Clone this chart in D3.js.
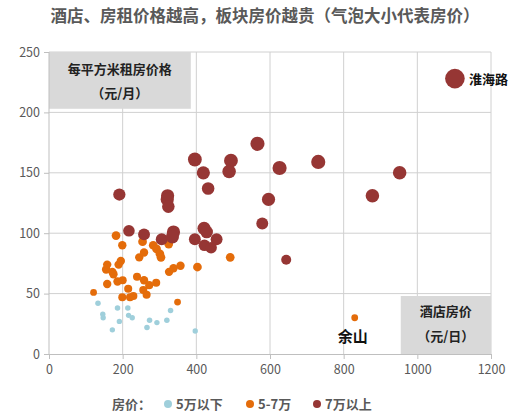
<!DOCTYPE html>
<html lang="zh">
<head>
    <meta charset="UTF-8">
    <title>酒店、房租价格与板块房价</title>
    <script src="https://d3js.org/d3.v7.min.js"></script>
    <style>
        body { margin: 0; background: #fff; }
        text { font-family: "Noto Sans CJK SC", "Noto Sans", sans-serif; }
    </style>
</head>
<body>
    <script type="text/javascript">
        // 5万以下
        var lowHotel = [133, 146, 147, 172, 186, 191, 214, 216, 226, 266, 273, 293, 320, 330, 397];
        var lowRent  = [42, 33, 30, 20, 38, 27, 38, 32, 30, 22, 28, 26, 28, 36, 19];
        var lowPrice = [4.2, 4.1, 4.1, 4.1, 4.2, 4.1, 4.2, 4.1, 4.1, 4.2, 4.2, 4.1, 4.2, 4.2, 4.1];

        // 5-7万
        var midHotel = [121, 158, 155, 158, 172, 175, 189, 195, 182, 199, 186, 200, 199, 215, 220, 229, 239, 258, 272, 291,
                        256, 265, 245, 258, 254, 283, 292, 301, 304, 325, 326, 338, 357, 403, 492, 349, 830];
        var midRent  = [51, 58, 70, 74, 68, 66, 74, 77, 98, 90, 60, 61, 47, 54, 47, 48, 64, 61, 57, 59,
                        53, 49, 80, 84, 93, 90, 87, 83, 80, 91, 68, 71, 73, 72, 80, 43, 30];
        var midPrice = [5.0, 6.0, 6.0, 6.0, 6.0, 6.0, 6.0, 6.0, 6.2, 6.0, 6.0, 5.8, 5.8, 5.8, 5.8, 5.8, 5.8, 6.0, 5.8, 5.8,
                        5.8, 5.8, 6.0, 6.0, 6.2, 6.2, 6.2, 6.2, 6.2, 6.2, 6.0, 6.0, 6.0, 6.2, 6.2, 5.0, 5.0];

        // 7万以上
        var highHotel = [191, 217, 258, 306, 322, 321, 324, 338, 335, 396, 421, 428, 422, 440, 455,
                         396, 419, 432, 494, 489, 566, 626, 596, 579, 644, 731, 878, 952, 1102];
        var highRent  = [132, 102, 99, 95, 131, 128, 122, 101, 97, 95, 104, 101, 90, 88, 95,
                         161, 150, 137, 160, 151, 174, 154, 128, 108, 78, 159, 131, 150, 228];
        var highPrice = [8.4, 8.0, 8.2, 8.2, 9.0, 9.0, 8.6, 9.0, 9.0, 8.2, 9.0, 8.6, 8.0, 8.0, 8.2,
                         9.4, 9.0, 8.6, 9.4, 9.2, 9.6, 9.6, 9.0, 8.2, 7.0, 9.6, 9.2, 9.2, 13.0];

        var xTicks = [0, 200, 400, 600, 800, 1000, 1200];
        var yTicks = [0, 50, 100, 150, 200, 250];

        var width = 528, height = 417;
        var margin = {top: 52, right: 37, bottom: 63, left: 49};

        var svg = d3.select("body").append("svg")
            .attr("width", width)
            .attr("height", height);

        var x = d3.scaleLinear().domain([0, 1200]).range([margin.left, width - margin.right]);
        var y = d3.scaleLinear().domain([0, 250]).range([height - margin.bottom, margin.top]);
        var r = d3.scaleLinear().domain([4, 13]).range([2.6, 9.8]).clamp(true);

        // title
        svg.append("text")
            .attr("x", 265).attr("y", 22)
            .attr("text-anchor", "middle")
            .style("font-size", "16.5px").style("font-weight", "bold")
            .style("fill", "#595959")
            .text("酒店、房租价格越高，板块房价越贵（气泡大小代表房价）");

        // grid
        svg.append("g").selectAll("line.h").data(yTicks.slice(1)).enter().append("line")
            .attr("x1", x(0)).attr("x2", x(1200))
            .attr("y1", function(d){ return y(d); }).attr("y2", function(d){ return y(d); })
            .style("stroke", "#d0d0d0");
        svg.append("g").selectAll("line.v").data(xTicks.slice(1)).enter().append("line")
            .attr("y1", y(0)).attr("y2", y(250))
            .attr("x1", function(d){ return x(d); }).attr("x2", function(d){ return x(d); })
            .style("stroke", "#d0d0d0");

        // label boxes
        svg.append("rect")
            .attr("x", x(0)).attr("y", y(250))
            .attr("width", x(385) - x(0)).attr("height", y(203) - y(250))
            .style("fill", "#d9d9d9");
        svg.append("rect")
            .attr("x", x(955)).attr("y", y(48))
            .attr("width", x(1200) - x(955)).attr("height", y(0) - y(48))
            .style("fill", "#d9d9d9");

        var boxText = svg.append("g")
            .style("font-size", "13px").style("font-weight", "bold").style("fill", "#222")
            .attr("text-anchor", "middle");
        boxText.append("text").attr("x", x(192)).attr("y", 74).text("每平方米租房价格");
        boxText.append("text").attr("x", x(192)).attr("y", 98).text("（元/月）");
        boxText.append("text").attr("x", x(1077)).attr("y", 316).text("酒店房价");
        boxText.append("text").attr("x", x(1077)).attr("y", 341).text("（元/日）");

        // axes
        var xAxis = d3.axisBottom(x).tickValues(xTicks).tickFormat(d3.format("d")).tickSize(5).tickPadding(6);
        var yAxis = d3.axisLeft(y).tickValues(yTicks).tickFormat(d3.format("d")).tickSize(5).tickPadding(4);

        var gx = svg.append("g").attr("transform", "translate(0," + y(0) + ")").call(xAxis);
        var gy = svg.append("g").attr("transform", "translate(" + x(0) + ",0)").call(yAxis);
        [gx, gy].forEach(function(g){
            g.selectAll("path, line").style("stroke", "#bfbfbf");
            g.selectAll("text").style("fill", "#595959").style("font-size", "12.5px")
             .style("font-family", "'Noto Sans CJK SC', sans-serif");
        });
        gy.select(".domain").remove();
        gy.append("line").attr("y1", y(0)).attr("y2", y(250)).style("stroke", "#bfbfbf");

        // bubbles
        function bubbles(xs, ys, ps, color){
            var pts = xs.map(function(d, i){ return {x: d, y: ys[i], p: ps[i]}; });
            svg.append("g").selectAll("circle").data(pts).enter().append("circle")
                .attr("cx", function(d){ return x(d.x); })
                .attr("cy", function(d){ return y(d.y); })
                .attr("r", function(d){ return r(d.p); })
                .style("fill", color);
        }
        bubbles(lowHotel, lowRent, lowPrice, "#9fcfdb");
        bubbles(midHotel, midRent, midPrice, "#e46c0a");
        bubbles(highHotel, highRent, highPrice, "#963634");

        // point labels
        svg.append("text").attr("x", x(1102) + 14).attr("y", y(228) + 5)
            .style("font-size", "13px").style("font-weight", "bold").style("fill", "#111")
            .text("淮海路");
        svg.append("text").attr("x", x(830) - 17).attr("y", 342)
            .style("font-size", "15px").style("font-weight", "bold").style("fill", "#111")
            .text("余山");

        // legend
        var legend = svg.append("g").attr("transform", "translate(0,404)")
            .style("font-size", "13px").style("font-weight", "bold");
        legend.append("text").attr("x", 112).attr("y", 5).style("fill", "#595959").text("房价：");
        var items = [["5万以下", "#9fcfdb", 168], ["5-7万", "#e46c0a", 250], ["7万以上", "#963634", 317]];
        items.forEach(function(it){
            legend.append("circle").attr("cx", it[2]).attr("cy", 0).attr("r", 4).style("fill", it[1]);
            legend.append("text").attr("x", it[2] + 8).attr("y", 5).style("fill", "#595959").text(it[0]);
        });
    </script>
</body>
</html>
